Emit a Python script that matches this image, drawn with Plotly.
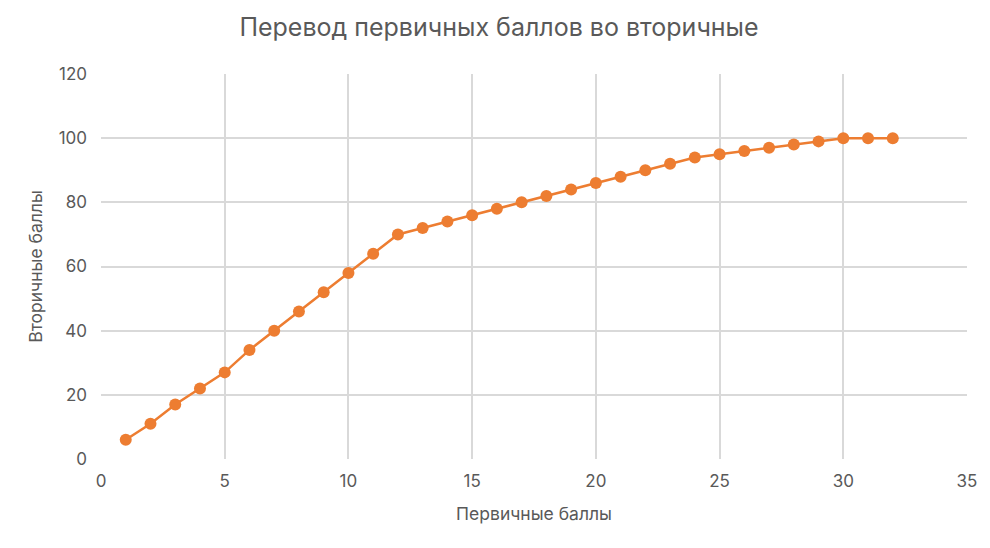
import plotly.graph_objects as go

# primary -> secondary score conversion
primary = list(range(1, 33))
secondary = [6, 11, 17, 22, 27, 34, 40, 46, 52, 58, 64, 70, 72, 74, 76, 78,
             80, 82, 84, 86, 88, 90, 92, 94, 95, 96, 97, 98, 99, 100, 100, 100]

x_ticks = [0, 5, 10, 15, 20, 25, 30, 35]
y_ticks = [0, 20, 40, 60, 80, 100, 120]

orange = '#ED7D31'
grey_text = '#595959'
grid = '#D9D9D9'

fig = go.Figure(go.Scatter(
    x=primary, y=secondary, mode='lines+markers',
    line={'color': orange, 'width': 2.5},
    marker={'color': orange, 'size': 12},
    showlegend=False))

# page body adds an 8px margin, so the figure is a bit smaller than the window
fig.update_layout(
    width=982, height=540,
    margin={'l': 93, 'r': 23, 't': 66, 'b': 89},
    paper_bgcolor='white', plot_bgcolor='white',
    font={'family': 'Inter, Roboto, sans-serif', 'color': grey_text, 'size': 17},
    title={'text': 'Перевод первичных баллов во вторичные',
           'x': 0.5, 'xanchor': 'center', 'y': 0.965, 'yanchor': 'middle',
           'font': {'size': 25, 'color': grey_text}},
    xaxis={'title': {'text': 'Первичные баллы', 'standoff': 17,
                     'font': {'size': 17.5}},
           'range': [0, 35], 'tickvals': x_ticks, 'showgrid': True,
           'gridcolor': grid, 'gridwidth': 1.5, 'zeroline': False,
           'showline': False, 'ticks': '', 'ticklabelstandoff': 10},
    yaxis={'title': {'text': 'Вторичные баллы', 'standoff': 11,
                     'font': {'size': 17.5}},
           'range': [0, 120], 'tickvals': y_ticks, 'showgrid': True,
           'gridcolor': grid, 'gridwidth': 1.5, 'zeroline': False,
           'showline': False, 'ticks': '', 'ticklabelstandoff': 13},
)

fig.write_html('out.html')
